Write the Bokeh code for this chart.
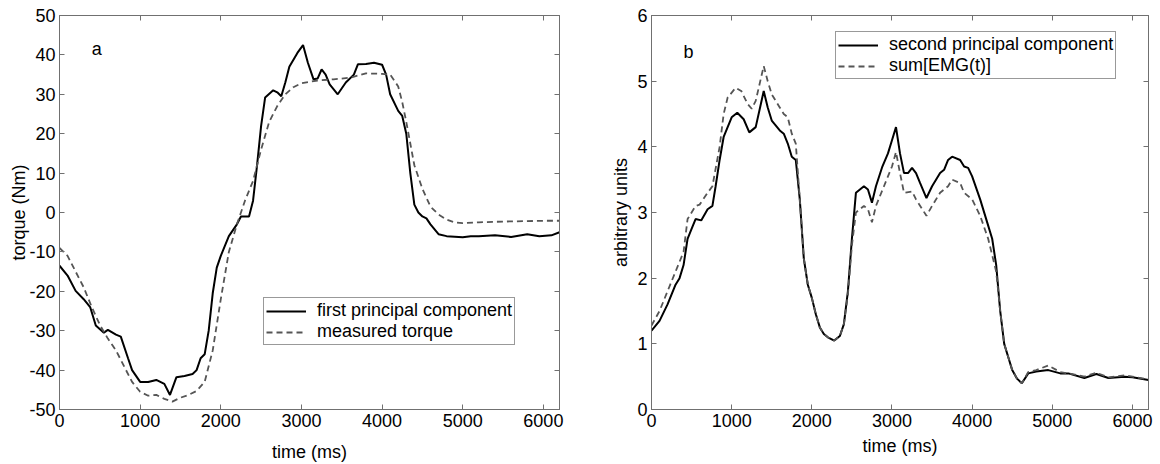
from bokeh.plotting import figure
from bokeh.models import (LinearAxis, FixedTicker, Legend, LegendItem, Label,
                          CustomJSTickFormatter, Range1d)
from bokeh.layouts import row
from bokeh.embed import file_html
from bokeh.resources import INLINE

FONT = "Liberation Sans"

# ---------------- panel a: torque ----------------
t_pc1 = [0, 100, 200, 300, 380, 450, 550, 600, 700, 760, 850, 900, 1000, 1100, 1200, 1300,
         1370, 1450, 1550, 1650, 1700, 1750, 1800, 1850, 1900, 1950, 2000, 2100, 2200, 2250,
         2350, 2400, 2450, 2500, 2550, 2650, 2700, 2750, 2800, 2850, 2950, 3020, 3080, 3150,
         3200, 3250, 3300, 3350, 3450, 3550, 3650, 3700, 3800, 3900, 4000, 4050, 4100, 4200,
         4250, 4300, 4350, 4400, 4450, 4500, 4550, 4600, 4700, 4800, 5000, 5100, 5200, 5400,
         5600, 5800, 5950, 6100, 6200]
y_pc1 = [-13.5, -16, -19.9, -22, -24, -28.7, -30.5, -29.8, -31, -31.5, -37, -40, -43, -43,
         -42.5, -43.5, -46.3, -41.8, -41.5, -41, -40, -37, -36, -30, -20.5, -14, -11, -6, -3,
         -1, -1, 3, 12, 22, 29.2, 31, 30.5, 29.5, 33, 37, 40.5, 42.5, 38, 33.8, 34, 36.3, 35,
         32.5, 30, 33, 35, 37.6, 37.7, 38, 37.5, 35, 30, 25.8, 24.5, 20, 10, 2, 0, -1, -1.5,
         -3, -5.5, -6, -6.3, -6, -6, -5.8, -6.2, -5.5, -6, -5.8, -5]

t_torque = [0, 100, 200, 300, 400, 500, 600, 700, 800, 900, 1000, 1100, 1200, 1300, 1400,
            1500, 1600, 1700, 1800, 1900, 2000, 2100, 2200, 2250, 2300, 2400, 2500, 2600,
            2700, 2800, 2900, 3000, 3200, 3400, 3600, 3800, 4000, 4100, 4200, 4250, 4300,
            4400, 4500, 4600, 4700, 4800, 4900, 5000, 5200, 5500, 6000, 6200]
y_torque = [-9, -11, -15, -19, -24, -28.5, -32, -35, -39, -43, -45.5, -46.5, -46.3, -47.3,
            -48, -47, -46.3, -45.3, -43, -35, -22, -10, -3, 0, 3, 8, 16, 23, 27, 30, 31.8,
            32.8, 33.5, 33.8, 34.2, 35.3, 35.2, 35, 32, 28, 23, 12, 6, 1.5, -0.5, -1.8, -2.5,
            -2.7, -2.5, -2.3, -2.1, -2.1]

# ---------------- panel b: arbitrary units ----------------
t_pc2 = [0, 100, 200, 300, 350, 400, 450, 500, 550, 620, 700, 760, 800, 850, 900, 1000,
         1070, 1150, 1220, 1300, 1400, 1450, 1500, 1600, 1650, 1700, 1750, 1800, 1850, 1900,
         1950, 2000, 2050, 2100, 2150, 2200, 2280, 2350, 2400, 2450, 2500, 2550, 2650, 2700,
         2750, 2800, 2880, 2950, 3000, 3050, 3100, 3150, 3200, 3250, 3300, 3350, 3430, 3500,
         3600, 3650, 3700, 3750, 3850, 3900, 3950, 4000, 4100, 4200, 4250, 4300, 4350, 4400,
         4450, 4500, 4560, 4620, 4700, 4800, 4950, 5100, 5200, 5400, 5550, 5700, 5900, 6000,
         6200]
y_pc2 = [1.2, 1.35, 1.6, 1.9, 2.0, 2.2, 2.6, 2.75, 2.9, 2.88, 3.05, 3.1, 3.4, 3.8, 4.15,
         4.45, 4.52, 4.42, 4.22, 4.3, 4.85, 4.6, 4.4, 4.25, 4.2, 4.05, 3.85, 3.8, 3.2, 2.3,
         1.9, 1.7, 1.45, 1.25, 1.15, 1.1, 1.05, 1.12, 1.3, 1.8, 2.6, 3.3, 3.4, 3.35, 3.15,
         3.4, 3.7, 3.9, 4.1, 4.3, 3.9, 3.6, 3.6, 3.68, 3.6, 3.45, 3.22, 3.4, 3.6, 3.65, 3.8,
         3.85, 3.8, 3.7, 3.68, 3.55, 3.2, 2.8, 2.6, 2.2, 1.5, 1.0, 0.8, 0.6, 0.47, 0.4, 0.55,
         0.58, 0.6, 0.55, 0.55, 0.48, 0.54, 0.48, 0.5, 0.49, 0.45]

t_emg = [0, 100, 200, 300, 400, 450, 550, 600, 700, 760, 850, 900, 950, 1050, 1120, 1200,
         1250, 1300, 1400, 1450, 1500, 1600, 1650, 1700, 1750, 1800, 1850, 1900, 1950, 2000,
         2050, 2100, 2150, 2200, 2280, 2350, 2400, 2450, 2500, 2550, 2650, 2700, 2750, 2800,
         2900, 3000, 3050, 3100, 3150, 3250, 3300, 3430, 3500, 3600, 3700, 3750, 3850, 3900,
         4000, 4100, 4200, 4300, 4350, 4400, 4450, 4500, 4560, 4620, 4700, 4800, 4950, 5100,
         5200, 5400, 5550, 5700, 5900, 6000, 6200]
y_emg = [1.28, 1.5, 1.8, 2.1, 2.4, 2.9, 3.1, 3.12, 3.3, 3.4, 4.0, 4.5, 4.75, 4.9, 4.85,
         4.65, 4.58, 4.7, 5.23, 5.0, 4.8, 4.6, 4.5, 4.45, 4.2, 4.05, 3.2, 2.3, 1.9, 1.7,
         1.45, 1.25, 1.15, 1.1, 1.05, 1.12, 1.3, 1.75, 2.5, 3.0, 3.1, 3.05, 2.85, 3.1, 3.4,
         3.7, 3.92, 3.6, 3.3, 3.32, 3.2, 2.95, 3.1, 3.3, 3.4, 3.5, 3.45, 3.3, 3.2, 2.95, 2.6,
         2.1, 1.5, 1.0, 0.8, 0.6, 0.47, 0.4, 0.57, 0.6, 0.67, 0.57, 0.55, 0.5, 0.56, 0.49,
         0.52, 0.5, 0.46]

x_ticks = [0, 1000, 2000, 3000, 4000, 5000, 6000]
y_ticks_a = [-50, -40, -30, -20, -10, 0, 10, 20, 30, 40, 50]
y_ticks_b = [0, 1, 2, 3, 4, 5, 6]

AX = "#707070"
DASH_COL = "#555555"
FS = "18px"


def style(p, yticks, xlab_standoff, ylab_standoff):
    p.outline_line_color = AX
    p.outline_line_width = 1
    p.grid.visible = False
    p.add_layout(LinearAxis(), "above")
    p.add_layout(LinearAxis(), "right")
    for ax in p.xaxis:
        ax.ticker = FixedTicker(ticks=x_ticks)
    for ax in p.yaxis:
        ax.ticker = FixedTicker(ticks=yticks)
    for ax in p.axis:
        ax.major_tick_in = 5
        ax.major_tick_out = 0
        ax.minor_tick_in = 0
        ax.minor_tick_out = 0
        ax.axis_line_color = AX
        ax.major_tick_line_color = AX
        ax.major_label_text_font = FONT
        ax.major_label_text_font_size = FS
        ax.major_label_text_color = "black"
        ax.axis_label_text_font = FONT
        ax.axis_label_text_font_size = FS
        ax.axis_label_text_font_style = "normal"
        ax.axis_label_text_color = "black"
        ax.major_label_standoff = 4
        ax.formatter = CustomJSTickFormatter(code="return tick.toString()")
    for ax in (p.above[0], p.right[0]):
        ax.formatter = CustomJSTickFormatter(code="return ''")
        ax.major_label_standoff = 0
    p.below[0].axis_label_standoff = xlab_standoff
    p.left[0].axis_label_standoff = ylab_standoff


def make_legend(items, loc):
    return Legend(items=items, location=loc, margin=0, padding=2, spacing=0,
                  glyph_width=40, glyph_height=18, label_height=18, label_standoff=11,
                  label_text_font=FONT, label_text_font_size=FS, label_text_color="black",
                  border_line_color="#333333", border_line_width=1,
                  background_fill_alpha=1.0)


# ---------------- figure a ----------------
pa = figure(width=608, height=464, min_border_left=59, min_border_right=49,
            min_border_top=15, min_border_bottom=55,
            x_range=Range1d(0, 6200), y_range=Range1d(-50, 50),
            output_backend="svg", toolbar_location=None,
            x_axis_label="time (ms)", y_axis_label="torque (Nm)")
ra1 = pa.line(t_pc1, y_pc1, line_color="black", line_width=2)
ra2 = pa.line(t_torque, y_torque, line_color=DASH_COL, line_width=1.8, line_dash="6 4")
style(pa, y_ticks_a, 12, -3)
pa.add_layout(Label(x=400, y=41.4, text="a", text_font=FONT, text_font_size=FS,
                    text_color="black", text_baseline="middle", text_align="left"))
pa.add_layout(make_legend([LegendItem(label="first principal component", renderers=[ra1]),
                           LegendItem(label="measured torque", renderers=[ra2])],
                          (204, 64)))

# ---------------- figure b ----------------
pb = figure(width=552, height=464, min_border_left=41, min_border_right=12,
            min_border_top=15, min_border_bottom=55,
            x_range=Range1d(0, 6200), y_range=Range1d(0, 6),
            output_backend="svg", toolbar_location=None,
            x_axis_label="time (ms)", y_axis_label="arbitrary units")
rb1 = pb.line(t_pc2, y_pc2, line_color="black", line_width=2)
rb2 = pb.line(t_emg, y_emg, line_color=DASH_COL, line_width=1.8, line_dash="6 4")
style(pb, y_ticks_b, 6, 3)
pb.add_layout(Label(x=400, y=5.44, text="b", text_font=FONT, text_font_size=FS,
                    text_color="black", text_baseline="middle", text_align="left"))
pb.add_layout(make_legend([LegendItem(label="second principal component", renderers=[rb1]),
                           LegendItem(label="sum[EMG(t)]", renderers=[rb2])],
                          (184, 330)))

layout = row(pa, pb)
open("out.html", "w").write(file_html(layout, INLINE))
